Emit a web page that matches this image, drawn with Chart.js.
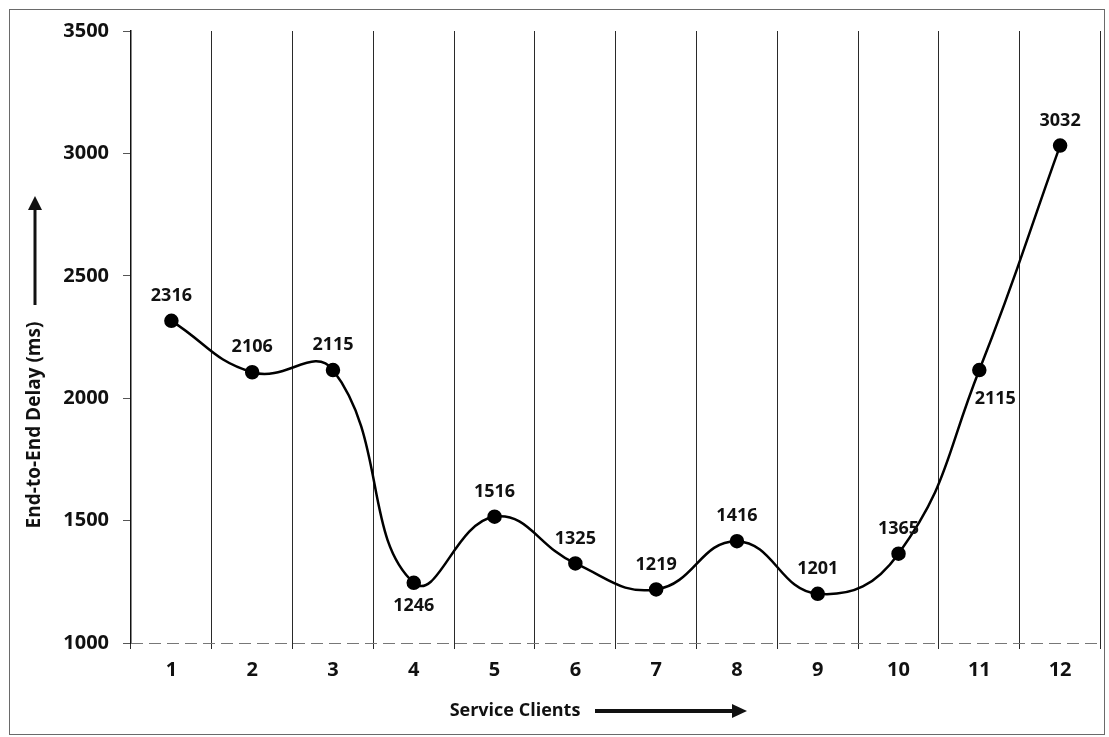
<!DOCTYPE html>
<html>
<head>
<meta charset="utf-8">
<script src="https://cdn.jsdelivr.net/npm/chart.js@4.4.1/dist/chart.umd.min.js"></script>
<style>
  html, body { margin: 0; padding: 0; background: #fff; }
  #wrap { width: 1109px; height: 737px; position: relative; }
</style>
</head>
<body>
<div id="wrap"><canvas id="c" width="1109" height="737"></canvas></div>
<script>
const categories = ['1', '2', '3', '4', '5', '6', '7', '8', '9', '10', '11', '12'];
const delays = [2316, 2106, 2115, 1246, 1516, 1325, 1219, 1416, 1201, 1365, 2115, 3032];
const labelSide = ['up', 'up', 'up', 'down', 'up', 'up', 'up', 'up', 'up', 'up', 'downright', 'up'];
const yTicks = [1000, 1500, 2000, 2500, 3000, 3500];
const xTitle = 'Service Clients';
const yTitle = 'End-to-End Delay (ms)';

const FONT = "'Open Sans', 'Liberation Sans', sans-serif";

const framePlugin = {
  id: 'frame',
  beforeDraw(chart) {
    const ctx = chart.ctx;
    ctx.save();
    ctx.strokeStyle = '#6a6a6a';
    ctx.lineWidth = 1;
    ctx.strokeRect(9.5, 9.5, 1095, 725);
    ctx.restore();
  },
  beforeDatasetsDraw(chart) {
    const ctx = chart.ctx;
    const a = chart.chartArea;
    ctx.save();
    ctx.strokeStyle = '#777';
    ctx.lineWidth = 1;
    ctx.setLineDash([12, 6]);
    ctx.beginPath();
    ctx.moveTo(a.left, Math.round(a.bottom) + 0.5);
    ctx.lineTo(a.right, Math.round(a.bottom) + 0.5);
    ctx.stroke();
    ctx.restore();
  }
};

const labelsPlugin = {
  id: 'pointLabels',
  afterDatasetsDraw(chart) {
    const ctx = chart.ctx;
    const meta = chart.getDatasetMeta(0);
    ctx.save();
    ctx.font = 'bold 18px ' + FONT;
    ctx.fillStyle = '#111';
    ctx.textAlign = 'center';
    ctx.textBaseline = 'middle';
    meta.data.forEach((pt, i) => {
      let dx = 0, dy = -25;
      if (labelSide[i] === 'down') { dy = 23; }
      if (labelSide[i] === 'downright') { dx = 16; dy = 29; }
      ctx.fillText(String(delays[i]), pt.x + dx, pt.y + dy);
    });
    ctx.restore();
  }
};

const titlesPlugin = {
  id: 'axisTitles',
  afterDraw(chart) {
    const ctx = chart.ctx;
    ctx.save();
    ctx.fillStyle = '#111';
    ctx.strokeStyle = '#111';
    ctx.font = 'bold 19px ' + FONT;
    ctx.textAlign = 'center';
    ctx.textBaseline = 'middle';
    const yx = 35, yc = 425;
    ctx.save();
    ctx.translate(yx, yc);
    ctx.rotate(-Math.PI / 2);
    ctx.fillText(yTitle, 0, 0);
    ctx.restore();
    ctx.lineWidth = 3;
    ctx.beginPath();
    ctx.moveTo(yx, 305);
    ctx.lineTo(yx, 206);
    ctx.stroke();
    ctx.beginPath();
    ctx.moveTo(yx, 196);
    ctx.lineTo(yx - 7, 210);
    ctx.lineTo(yx + 7, 210);
    ctx.closePath();
    ctx.fill();
    ctx.font = 'bold 18px ' + FONT;
    ctx.fillText(xTitle, 515, 711);
    ctx.lineWidth = 4;
    ctx.beginPath();
    ctx.moveTo(595, 711);
    ctx.lineTo(735, 711);
    ctx.stroke();
    ctx.beginPath();
    ctx.moveTo(747, 711);
    ctx.lineTo(732, 704);
    ctx.lineTo(732, 718);
    ctx.closePath();
    ctx.fill();
    ctx.restore();
  }
};

new Chart(document.getElementById('c'), {
  type: 'line',
  data: {
    labels: categories,
    datasets: [{
      data: delays,
      borderColor: '#000',
      backgroundColor: '#000',
      borderWidth: 2.5,
      tension: 0.45,
      pointRadius: 6,
      pointBackgroundColor: '#000',
      pointBorderColor: '#000',
      fill: false
    }]
  },
  options: {
    responsive: false,
    animation: false,
    events: [],
    layout: { padding: { top: 31, right: 8, left: 0, bottom: 0 } },
    plugins: { legend: { display: false }, tooltip: { enabled: false } },
    scales: {
      x: {
        offset: true,
        grid: { display: true, offset: true, color: '#2a2a2a', lineWidth: 1, drawTicks: true, tickLength: 6 },
        border: { display: false },
        ticks: { color: '#111', font: { family: FONT, size: 20, weight: 'bold' }, padding: 9, maxRotation: 0 },
        afterFit(s) { s.height = 94; }
      },
      y: {
        min: 1000, max: 3500,
        afterBuildTicks(s) { s.ticks = yTicks.map(v => ({ value: v })); },
        grid: { drawOnChartArea: false, drawTicks: true, tickLength: 8, color: '#555' },
        border: { display: true, color: '#111', width: 1.5 },
        ticks: { color: '#111', font: { family: FONT, size: 20, weight: 'bold' }, padding: 14, callback: v => String(v) },
        afterFit(s) { s.width = 131; }
      }
    }
  },
  plugins: [framePlugin, labelsPlugin, titlesPlugin]
});
</script>
</body>
</html>
